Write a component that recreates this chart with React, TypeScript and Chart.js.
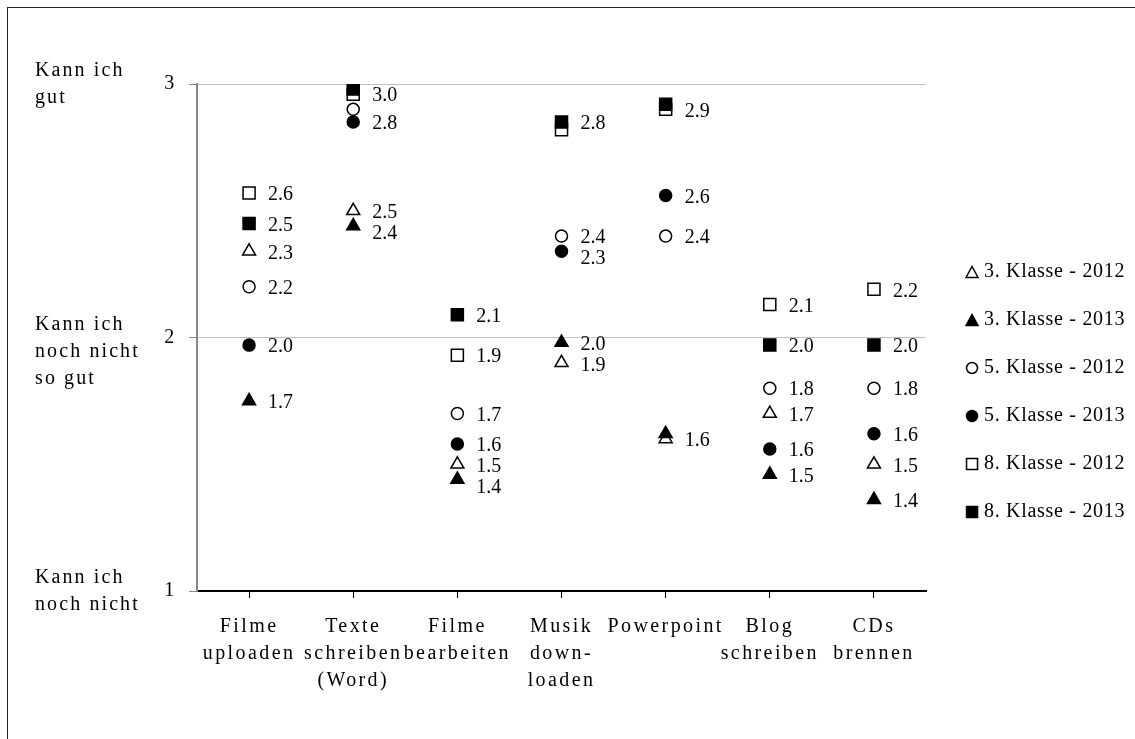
import React, { useEffect, useRef } from "react";
import { Chart, registerables } from "chart.js";

Chart.register(...registerables);

// ---------- data ----------
const categories: string[][] = [
  ["Filme", "uploaden"],
  ["Texte", "schreiben", "(Word)"],
  ["Filme", "bearbeiten"],
  ["Musik", "down-", "loaden"],
  ["Powerpoint"],
  ["Blog", "schreiben"],
  ["CDs", "brennen"],
];

const seriesNames = [
  "3. Klasse - 2012",
  "3. Klasse - 2013",
  "5. Klasse - 2012",
  "5. Klasse - 2013",
  "8. Klasse - 2012",
  "8. Klasse - 2013",
];

const klasse3_2012 = [2.34, 2.5, 1.5, 1.9, 1.6, 1.7, 1.5];
const klasse3_2013 = [1.75, 2.44, 1.44, 1.98, 1.62, 1.46, 1.36];
const klasse5_2012 = [2.2, 2.9, 1.7, 2.4, 2.4, 1.8, 1.8];
const klasse5_2013 = [1.97, 2.85, 1.58, 2.34, 2.56, 1.56, 1.62];
const klasse8_2012 = [2.57, 2.96, 1.93, 2.82, 2.9, 2.13, 2.19];
const klasse8_2013 = [2.45, 2.98, 2.09, 2.85, 2.92, 1.97, 1.97];

const labels3_2012 = ["2.3", "2.5", "1.5", "1.9", "1.6", "1.7", "1.5"];
const labels3_2013 = ["1.7", "2.4", "1.4", "2.0", null, "1.5", "1.4"];
const labels5_2012 = ["2.2", null, "1.7", "2.4", "2.4", "1.8", "1.8"];
const labels5_2013 = ["2.0", "2.8", "1.6", "2.3", "2.6", "1.6", "1.6"];
const labels8_2012 = ["2.6", "3.0", "1.9", null, "2.9", "2.1", "2.2"];
const labels8_2013 = ["2.5", null, "2.1", "2.8", null, "2.0", "2.0"];

const yTickValues = [1, 2, 3];
const yLevelTexts = [
  ["Kann ich", "noch nicht"],
  ["Kann ich", "noch nicht", "so gut"],
  ["Kann ich", "gut"],
];

const seriesValues = [klasse3_2012, klasse3_2013, klasse5_2012, klasse5_2013, klasse8_2012, klasse8_2013];
const seriesLabels = [labels3_2012, labels3_2013, labels5_2012, labels5_2013, labels8_2012, labels8_2013];

// ---------- styles ----------
const FONT = "'Liberation Serif', 'Times New Roman', serif";
const markerStyles = [
  { pointStyle: "triangle", filled: false, radius: 7.5 },
  { pointStyle: "triangle", filled: true, radius: 7.5 },
  { pointStyle: "circle", filled: false, radius: 6 },
  { pointStyle: "circle", filled: true, radius: 6 },
  { pointStyle: "rect", filled: false, radius: 8.5 },
  { pointStyle: "rect", filled: true, radius: 8.5 },
];

const CANVAS_W = 1116;
const CANVAS_H = 731;
const SPACING_LEGEND = "0.7px";
const SPACING_XLABELS = "2.4px";
const SPACING_LEVELS = "2.1px";

function makeLegendMarker(shape: string, filled: boolean): HTMLCanvasElement {
  const c = document.createElement("canvas");
  c.width = 16;
  c.height = 16;
  const g = c.getContext("2d") as CanvasRenderingContext2D;
  g.lineWidth = 1.5;
  g.strokeStyle = "#000";
  g.fillStyle = filled ? "#000" : "#fff";
  g.beginPath();
  if (shape === "triangle") {
    g.moveTo(8, 2.5);
    g.lineTo(14, 13.5);
    g.lineTo(2, 13.5);
    g.closePath();
  } else if (shape === "circle") {
    g.arc(8, 8, 5.5, 0, Math.PI * 2);
  } else {
    g.rect(2.5, 2.5, 11, 11);
  }
  g.fill();
  g.stroke();
  return c;
}

const spacingPlugin = {
  id: "spacing",
  beforeDraw(chart: any) {
    chart.ctx.letterSpacing = SPACING_LEGEND;
  },
};

const valueLabelPlugin = {
  id: "valueLabels",
  afterDatasetsDraw(chart: any) {
    const ctx = chart.ctx;
    ctx.save();
    ctx.letterSpacing = "0px";
    ctx.font = `20px ${FONT}`;
    ctx.fillStyle = "#000";
    ctx.textAlign = "left";
    ctx.textBaseline = "middle";
    categories.forEach((_, ci) => {
      const items: { x: number; y: number; text: string }[] = [];
      seriesLabels.forEach((lbls, si) => {
        const text = lbls[ci];
        if (!text) return;
        const el = chart.getDatasetMeta(si).data[ci];
        if (!el) return;
        items.push({ x: el.x, y: el.y, text });
      });
      items.sort((a, b) => a.y - b.y);
      let prev = -Infinity;
      items.forEach((it) => {
        const ly = Math.max(it.y + 2, prev + 21);
        prev = ly;
        ctx.fillText(it.text, it.x + 19, ly);
      });
    });
    ctx.restore();
    // x-axis category labels are drawn after the datasets (ticks.z = 1)
    ctx.letterSpacing = SPACING_XLABELS;
  },
};

const levelTextPlugin = {
  id: "levelTexts",
  afterDraw(chart: any) {
    const ctx = chart.ctx;
    const y = chart.scales.y;
    ctx.save();
    ctx.letterSpacing = SPACING_LEVELS;
    ctx.font = `20px ${FONT}`;
    ctx.fillStyle = "#000";
    ctx.textAlign = "left";
    ctx.textBaseline = "middle";
    yTickValues.forEach((v, i) => {
      const py = y.getPixelForValue(v);
      yLevelTexts[i].forEach((line, j) => {
        ctx.fillText(line, 27, py - 13 + j * 27);
      });
    });
    ctx.restore();
    ctx.letterSpacing = "0px";
  },
};

export default function App() {
  const ref = useRef<HTMLCanvasElement | null>(null);

  useEffect(() => {
    if (!ref.current) return;
    const legendMarkers = markerStyles.map((st) => makeLegendMarker(st.pointStyle, st.filled));
    const datasets = seriesValues.map((vals, i) => {
      const st = markerStyles[i];
      return {
        label: seriesNames[i],
        data: vals,
        showLine: false,
        order: seriesValues.length - i,
        pointStyle: st.pointStyle,
        pointRadius: st.radius,
        pointHoverRadius: st.radius,
        pointBorderWidth: 1.5,
        pointBorderColor: "#000",
        pointBackgroundColor: st.filled ? "#000" : "#fff",
        borderColor: "#000",
        backgroundColor: st.filled ? "#000" : "#fff",
        borderWidth: 1.5,
      };
    });

    const chart = new Chart(ref.current, {
      type: "line",
      data: { labels: categories as any, datasets: datasets as any },
      options: {
        responsive: false,
        animation: false,
        devicePixelRatio: 1,
        layout: { padding: { left: 0, top: 76, right: 0, bottom: 39 } },
        plugins: {
          tooltip: { enabled: false },
          legend: {
            position: "right",
            labels: {
              usePointStyle: true,
              boxWidth: 4,
              boxHeight: 10,
              padding: 28,
              color: "#000",
              font: { family: FONT, size: 20 },
              sort: (a: any, b: any) => a.datasetIndex - b.datasetIndex,
              generateLabels: (ch: any) => {
                const items = (Chart as any).defaults.plugins.legend.labels.generateLabels(ch);
                return items.map((it: any) => ({ ...it, pointStyle: legendMarkers[it.datasetIndex] }));
              },
            },
          },
        },
        scales: {
          x: {
            type: "category",
            offset: true,
            afterFit: (s: any) => {
              s.height = 109;
            },
            grid: {
              offset: false,
              drawOnChartArea: false,
              color: "#000",
              tickLength: 7,
              lineWidth: 1,
            },
            border: { color: "#000", width: 2 },
            ticks: {
              z: 1,
              color: "#000",
              font: { family: FONT, size: 20, lineHeight: 1.35 },
              padding: 15,
              maxRotation: 0,
              autoSkip: false,
            },
          },
          y: {
            min: 1,
            max: 3,
            afterFit: (s: any) => {
              s.width = 189;
            },
            ticks: {
              stepSize: 1,
              color: "#000",
              padding: 14,
              font: { family: FONT, size: 20 },
            },
            grid: {
              color: (c: any) => (c.tick && c.tick.value === 1 ? "rgba(0,0,0,0)" : "#bfbfbf"),
              tickColor: "#888",
              tickLength: 8,
              lineWidth: 1,
            },
            border: { color: "#888", width: 2 },
          },
          gap: {
            type: "linear",
            position: "right",
            display: true,
            afterFit: (s: any) => {
              s.width = 16;
            },
            grid: { display: false, drawOnChartArea: false, drawTicks: false },
            ticks: { display: false },
            border: { display: false },
          },
        },
      },
      plugins: [spacingPlugin, valueLabelPlugin, levelTextPlugin],
    } as any);
    return () => chart.destroy();
  }, []);

  return (
    <div
      style={{
        position: "absolute",
        left: 7,
        top: 7,
        width: 1128,
        height: 732,
        borderTop: "1px solid #222",
        borderLeft: "1px solid #222",
        boxSizing: "border-box",
        overflow: "hidden",
        background: "#fff",
      }}
    >
      <canvas
        ref={ref}
        width={CANVAS_W}
        height={CANVAS_H}
        style={{ display: "block", width: CANVAS_W, height: CANVAS_H }}
      />
    </div>
  );
}
